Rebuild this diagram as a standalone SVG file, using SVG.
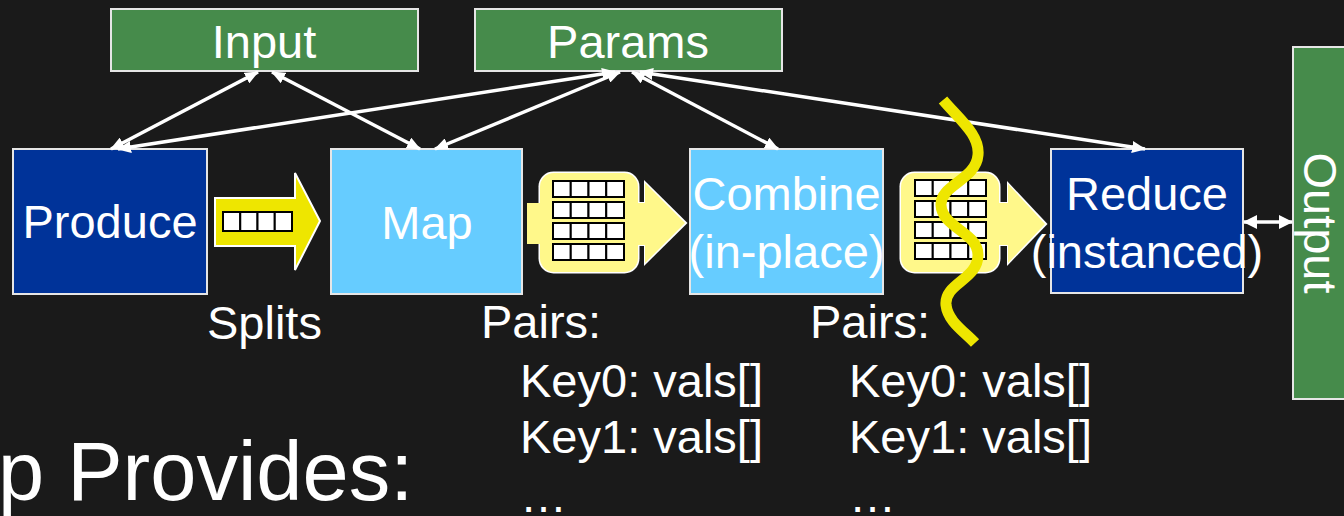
<svg xmlns="http://www.w3.org/2000/svg" width="1344" height="516" viewBox="0 0 1344 516">
  <defs>
    <style>
      .txt { font-family: "Liberation Sans", Arial, sans-serif; font-size: 47px; fill: #ffffff; }
      .big { font-family: "Liberation Sans", Arial, sans-serif; font-size: 83px; fill: #ffffff; }
      .green { fill: #468B4B; stroke: #e6e6e6; stroke-width: 2; }
      .dark { fill: #003399; stroke: #e6e6e6; stroke-width: 2; }
      .light { fill: #66CCFF; stroke: #e6e6e6; stroke-width: 2; }
      .conn { stroke: #ffffff; stroke-width: 3.5; fill: none; marker-start: url(#ah); marker-end: url(#ah); }
      .cell { fill: #ffffff; stroke: #000000; stroke-width: 2; }
      .pale { fill: #FFF88A; }
    </style>
    <marker id="ah" viewBox="0 0 14 12" refX="13" refY="6" markerWidth="14" markerHeight="12" markerUnits="userSpaceOnUse" orient="auto-start-reverse">
      <path d="M0,0 L14,6 L0,12 z" fill="#ffffff"/>
    </marker>
    <marker id="ah2" viewBox="0 0 14 14" refX="13" refY="7" markerWidth="14" markerHeight="14" markerUnits="userSpaceOnUse" orient="auto-start-reverse">
      <path d="M0,0 L14,7 L0,14 z" fill="#ffffff"/>
    </marker>
    <g id="gridrow">
      <rect class="cell" x="0" y="0" width="17.75" height="16"/>
      <rect class="cell" x="17.75" y="0" width="17.75" height="16"/>
      <rect class="cell" x="35.5" y="0" width="17.75" height="16"/>
      <rect class="cell" x="53.25" y="0" width="17.75" height="16"/>
    </g>
    <g id="grid">
      <use href="#gridrow" y="0"/>
      <use href="#gridrow" y="21"/>
      <use href="#gridrow" y="42"/>
      <use href="#gridrow" y="63"/>
    </g>
  </defs>

  <rect x="0" y="0" width="1344" height="516" fill="#1a1a1a"/>

  <!-- Nodes -->
  <g id="input">
    <rect class="green" x="111" y="9" width="307" height="62"/>
    <text class="txt" x="264" y="58" text-anchor="middle">Input</text>
  </g>
  <g id="params">
    <rect class="green" x="475" y="9" width="307" height="62"/>
    <text class="txt" x="628" y="58" text-anchor="middle">Params</text>
  </g>
  <g id="produce">
    <rect class="dark" x="13" y="149" width="194" height="145"/>
    <text class="txt" x="110" y="238" text-anchor="middle">Produce</text>
  </g>
  <g id="map">
    <rect class="light" x="331" y="149" width="191" height="145"/>
    <text class="txt" x="427" y="239" text-anchor="middle">Map</text>
  </g>
  <g id="combine">
    <rect class="light" x="690" y="149" width="193" height="145"/>
    <text class="txt" x="786.5" y="210" text-anchor="middle">Combine</text>
    <text class="txt" x="786.5" y="268" text-anchor="middle">(in-place)</text>
  </g>
  <g id="reduce">
    <rect class="dark" x="1051" y="149" width="192" height="144"/>
    <text class="txt" x="1147" y="210" text-anchor="middle">Reduce</text>
    <text class="txt" x="1147" y="268" text-anchor="middle">(instanced)</text>
  </g>
  <g id="output">
    <rect class="green" x="1293" y="47" width="60" height="352"/>
    <text class="txt" transform="translate(1304,223) rotate(90)" text-anchor="middle">Output</text>
  </g>

  <!-- Data-flow arrows -->
  <g id="splits-arrow">
    <path d="M215,198 L295,198 L295,173 L320,221 L295,270 L295,246 L215,246 z" fill="#EEE600" stroke="#ffffff" stroke-width="2"/>
    <rect class="cell" x="223" y="212" width="17.25" height="19"/>
    <rect class="cell" x="240.25" y="212" width="17.25" height="19"/>
    <rect class="cell" x="257.5" y="212" width="17.25" height="19"/>
    <rect class="cell" x="274.75" y="212" width="17.25" height="19"/>
  </g>

  <g id="pairs-arrow-1" transform="translate(540,173)">
    <g fill="#ffffff">
      <rect x="-1.5" y="-1.5" width="101" height="102" rx="15"/>
      <rect x="94" y="29" width="14" height="44"/>
      <path d="M104,7 L147.5,50 L104,93 z"/>
    </g>
    <g class="pale">
      <rect x="-13" y="30" width="20" height="41"/>
      <rect x="0" y="0" width="98" height="99" rx="14"/>
      <rect x="95" y="30" width="12" height="42"/>
      <path d="M105,10 L145,50 L105,90 z"/>
    </g>
    <use href="#grid" x="13" y="8"/>
  </g>

  <g id="pairs-arrow-2" transform="translate(901,173)">
    <g fill="#ffffff">
      <rect x="-1.5" y="-1.5" width="101" height="102" rx="15"/>
      <rect x="94" y="29" width="14" height="44"/>
      <path d="M106,8 L146.5,51 L106,93 z"/>
    </g>
    <g class="pale">
      <rect x="0" y="0" width="98" height="99" rx="14"/>
      <rect x="95" y="30" width="13" height="42"/>
      <path d="M107,11 L144,51 L107,90 z"/>
    </g>
    <use href="#grid" x="14" y="7"/>
  </g>

  <!-- Connectors -->
  <g id="connectors">
    <line class="conn" x1="258" y1="72" x2="111" y2="149"/>
    <line class="conn" x1="272" y1="72" x2="420" y2="149"/>
    <line class="conn" x1="615" y1="72" x2="118" y2="149"/>
    <line class="conn" x1="620" y1="72" x2="435" y2="149"/>
    <line class="conn" x1="632" y1="72" x2="778" y2="149"/>
    <line class="conn" x1="640" y1="72" x2="1145" y2="149"/>
    <line x1="1244" y1="222" x2="1292" y2="222" stroke="#ffffff" stroke-width="3.5" marker-start="url(#ah2)" marker-end="url(#ah2)"/>
  </g>

  <!-- Cut line -->
  <path id="cut" d="M943,100 C960,120 980,135 978,155 C976,180 940,185 941,205 C942,228 978,232 978,255 C978,280 944,283 946,305 C948,322 965,332 975,343" fill="none" stroke="#EEE600" stroke-width="11"/>

  <!-- Labels -->
  <g id="labels">
    <text class="txt" x="207" y="339">Splits</text>
    <text class="txt" x="481" y="338">Pairs:</text>
    <text class="txt" x="520" y="397">Key0: vals[]</text>
    <text class="txt" x="520" y="453">Key1: vals[]</text>
    <text class="txt" x="520" y="512">…</text>
    <text class="txt" x="810" y="338">Pairs:</text>
    <text class="txt" x="849" y="397">Key0: vals[]</text>
    <text class="txt" x="849" y="453">Key1: vals[]</text>
    <text class="txt" x="849" y="512">…</text>
    <text class="big" x="-2" y="500">p Provides:</text>
  </g>
</svg>
